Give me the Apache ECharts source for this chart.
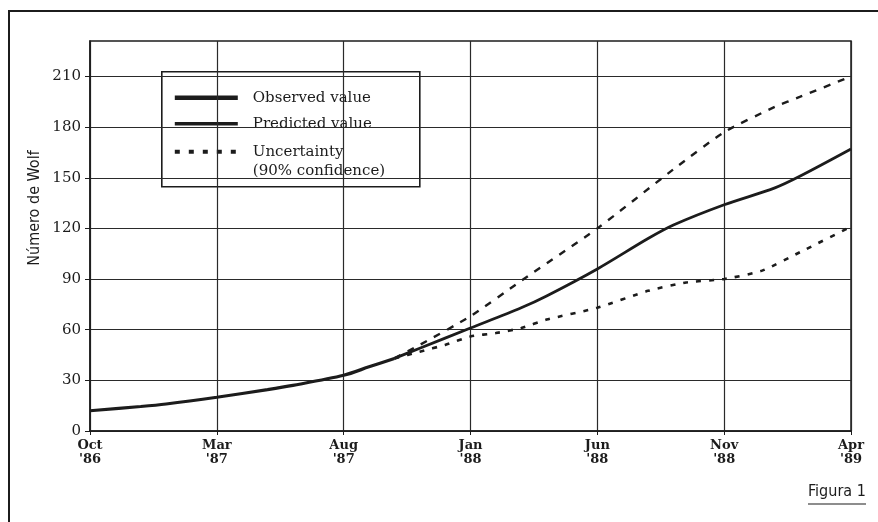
<!DOCTYPE html>
<html>
<head>
<meta charset="utf-8">
<script src="https://cdn.jsdelivr.net/npm/echarts@6/dist/echarts.min.js"></script>
<style>
  html, body { margin: 0; padding: 0; background: #fff; }
  #chart { width: 878px; height: 522px; }
</style>
</head>
<body>
<div id="chart"></div>
<script>
// eje x: meses desde Oct '86
const tickLabels = ["Oct\n'86", "Mar\n'87", "Aug\n'87", "Jan\n'88", "Jun\n'88", "Nov\n'88", "Apr\n'89"];
const yTicks = [0, 30, 60, 90, 120, 150, 180, 210];

const obsMonths = [0, 2, 3, 5, 7, 8, 10, 11, 12];
const obsValues = [12, 14.5, 16, 20, 24.5, 27, 33, 38, 43];

const predMonths = [12, 13, 15, 17, 18, 20, 22, 23, 25, 27, 28, 30];
const predValues = [43, 49, 61, 73, 80, 96, 114, 122, 134, 144, 151, 167];

const upperMonths = [12, 13, 15, 17, 20, 23, 25, 27, 28, 30];
const upperValues = [43, 51, 68, 89, 120, 155, 177, 192, 198, 210];

const lowerMonths = [12, 13, 14, 15, 16, 17, 18, 20, 22, 23.5, 25, 26.5, 28, 30];
const lowerValues = [43, 47, 51, 56, 58, 61, 66, 73, 83, 88, 90, 95, 106, 121];

function pairs(xs, ys) {
  return xs.map((x, i) => [x, ys[i]]);
}

const ink = '#1c1c1c';
const serif = '"DejaVu Serif", "Liberation Serif", serif';
const narrow = '"Liberation Sans Narrow", "DejaVu Sans Condensed", "Liberation Sans", sans-serif';

const chart = echarts.init(document.getElementById('chart'));

const option = {
  backgroundColor: '#fff',
  animation: false,
  grid: {
    left: 90, top: 41, right: 27, bottom: 91,
    show: true, borderColor: ink, borderWidth: 1.5
  },
  xAxis: {
    type: 'value',
    min: 0, max: 30, interval: 5,
    axisLine: { lineStyle: { color: ink, width: 1.5 } },
    axisTick: { length: 4, lineStyle: { color: ink } },
    splitLine: { show: true, lineStyle: { color: '#2a2a2a', width: 1.2 } },
    axisLabel: {
      margin: 8,
      color: ink,
      fontFamily: serif,
      fontWeight: 'bold',
      fontSize: 13,
      lineHeight: 14,
      formatter: v => tickLabels[Math.round(v / 5)] || ''
    }
  },
  yAxis: {
    type: 'value',
    min: 0, max: 231, interval: 30,
    axisLine: { show: true, lineStyle: { color: ink, width: 1.5 } },
    axisTick: { show: true, length: 5, customValues: yTicks, lineStyle: { color: ink } },
    splitLine: { show: true, lineStyle: { color: '#2a2a2a', width: 1.2 } },
    axisLabel: {
      margin: 9,
      color: ink,
      fontFamily: serif,
      fontSize: 15,
      customValues: yTicks,
      formatter: v => (v % 30 === 0 ? String(v) : '')
    }
  },
  series: [
    {
      name: 'Observed value',
      type: 'line',
      data: pairs(obsMonths, obsValues),
      smooth: 0.3,
      symbol: 'none',
      lineStyle: { color: ink, width: 3.2 },
      z: 5
    },
    {
      name: 'Predicted value',
      type: 'line',
      data: pairs(predMonths, predValues),
      smooth: 0.3,
      symbol: 'none',
      lineStyle: { color: ink, width: 2.8 },
      z: 5
    },
    {
      name: 'Uncertainty (upper)',
      type: 'line',
      data: pairs(upperMonths, upperValues),
      smooth: 0.2,
      symbol: 'none',
      lineStyle: { color: ink, width: 2.4, type: [7, 8] },
      z: 4
    },
    {
      name: 'Uncertainty (lower)',
      type: 'line',
      data: pairs(lowerMonths, lowerValues),
      smooth: 0.2,
      symbol: 'none',
      lineStyle: { color: ink, width: 2.6, type: [5, 8] },
      z: 4
    }
  ],
  graphic: [
    // marco exterior
    {
      type: 'rect',
      shape: { x: 9, y: 11, width: 1000, height: 600 },
      style: { fill: null, stroke: ink, lineWidth: 2 },
      silent: true
    },
    // título del eje y
    {
      type: 'text',
      x: 35, y: 208,
      rotation: Math.PI / 2,
      style: {
        text: 'Número de Wolf',
        font: '16px ' + narrow,
        fill: ink,
        align: 'center',
        verticalAlign: 'middle'
      }
    },
    // leyenda
    {
      type: 'group',
      left: 161, top: 71,
      z: 100,
      children: [
        {
          type: 'rect',
          shape: { x: 0, y: 0, width: 258, height: 115 },
          style: { fill: '#fff', stroke: ink, lineWidth: 1.6 }
        },
        {
          type: 'line',
          shape: { x1: 13, y1: 26, x2: 76, y2: 26 },
          style: { stroke: ink, lineWidth: 4.5 }
        },
        {
          type: 'text', x: 91, y: 26,
          style: { text: 'Observed value', font: '15px ' + serif, fill: ink, verticalAlign: 'middle' }
        },
        {
          type: 'line',
          shape: { x1: 13, y1: 52, x2: 76, y2: 52 },
          style: { stroke: ink, lineWidth: 3.5 }
        },
        {
          type: 'text', x: 91, y: 52,
          style: { text: 'Predicted value', font: '15px ' + serif, fill: ink, verticalAlign: 'middle' }
        },
        {
          type: 'line',
          shape: { x1: 13, y1: 80, x2: 76, y2: 80 },
          style: { stroke: ink, lineWidth: 4, lineDash: [5, 9] }
        },
        {
          type: 'text', x: 91, y: 80,
          style: { text: 'Uncertainty', font: '15px ' + serif, fill: ink, verticalAlign: 'middle' }
        },
        {
          type: 'text', x: 91, y: 99,
          style: { text: '(90% confidence)', font: '15px ' + serif, fill: ink, verticalAlign: 'middle' }
        }
      ]
    },
    // Figura 1
    {
      type: 'text',
      x: 808, y: 492,
      style: {
        text: 'Figura 1',
        font: '16px ' + narrow,
        fill: ink,
        verticalAlign: 'middle'
      }
    },
    {
      type: 'line',
      shape: { x1: 808, y1: 504, x2: 866, y2: 504 },
      style: { stroke: ink, lineWidth: 1.2 }
    }
  ]
};

chart.setOption(option);
</script>
</body>
</html>
